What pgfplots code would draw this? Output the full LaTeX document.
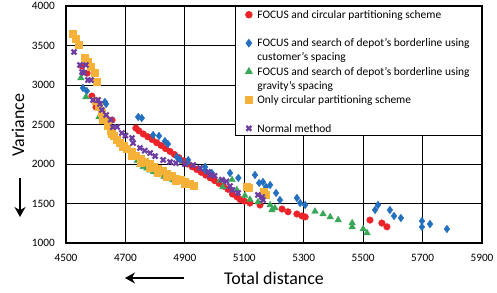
\documentclass[border=0pt]{standalone}
\usepackage{pgfplots}
\pgfplotsset{compat=1.18}
\usepackage{fontspec}
\setmainfont{Carlito}
\usetikzlibrary{arrows.meta}
\definecolor{cred}{RGB}{236,35,40}
\definecolor{cblue}{RGB}{36,112,192}
\definecolor{cgreen}{RGB}{56,168,88}
\definecolor{corange}{RGB}{246,178,56}
\definecolor{cpurple}{RGB}{110,62,160}
\pgfplotsset{
  lgmark/.style={only marks, legend image code/.code={\draw[mark repeat=1,##1] plot coordinates {(0bp,3.6bp)};}},
}
\newcommand{\lentry}[2]{\rlap{\raisebox{-14bp}[0pt][0pt]{\strut #2}}\strut #1}
\newcommand{\lentrylast}[1]{\rlap{\raisebox{-13bp}[0pt]{\strut}}\strut #1}
\begin{document}
\begin{tikzpicture}
\begin{axis}[
  at={(0,0)}, anchor=south west,
  scale only axis, width=416bp, height=237bp,
  xmin=4500, xmax=5900, ymin=1000, ymax=4000,
  xtick={4500,4700,...,5900}, ytick={1000,1500,...,4000},
  grid=major, major grid style={black, line width=0.8bp},
  major tick length=0pt,
  axis line style={black, line width=1.2bp},
  /pgf/number format/assume math mode=true,
  /pgf/number format/1000 sep={},
  ticklabel style={font=\fontsize{11.3}{13}\selectfont},
  yticklabel style={inner sep=0pt, xshift=-11bp},
  xticklabel style={inner sep=0pt, yshift=-11bp},
  legend cell align=left,
  legend style={at={(1,1)}, anchor=north east, draw=black, line width=0.8bp, fill=white,
    inner xsep=10bp, inner ysep=0bp, column sep=3bp, row sep=13bp,
    cells={anchor=base west},
    font=\fontsize{11.5}{14.25}\selectfont},
]
\addplot[lgmark, mark=*, mark size=3.3bp, color=cred, mark options={draw=cred, fill=cred}] coordinates {
(4554,3240) (4571,3150) (4587,2860) (4601,2720) (4620,2650) (4655,2557)
(4735,2455) (4745,2420) (4760,2380) (4775,2345) (4790,2310) (4805,2270) (4820,2235)
(4835,2195) (4850,2160) (4865,2120) (4880,2080) (4895,2040) (4910,2000) (4925,1965)
(4940,1930) (4955,1895) (4970,1860) (4985,1825) (5000,1790) (5015,1755) (5030,1720)
(5045,1680) (5060,1620) (5075,1585) (5086,1550) (5100,1530) (5119,1506) (5153,1481)
(5227,1430) (5247,1395) (5277,1367) (5294,1342) (5305,1330)
(5523,1290) (5563,1253) (5580,1205)
};
\addlegendentry{\lentry{FOCUS and circular partitioning scheme}{}}
\addplot[lgmark, mark=diamond*, mark size=3.8bp, color=cblue, mark options={draw=cblue, fill=cblue}] coordinates {
(4557,2962) (4570,2924) (4631,2785) (4635,2760) (4743,2595) (4755,2582)
(4793,2367) (4813,2355) (4833,2290) (4843,2253) (4873,2089) (4884,2051) (4907,2013)
(4911,2050) (4968,1962) (4968,1924) (4991,1886) (5052,1886) (5080,1823) (5136,1861)
(5150,1760) (5163,1772) (5173,1709) (5187,1734) (5207,1633) (5220,1544) (5277,1570)
(5288,1506) (5305,1481)
(5540,1418) (5550,1481) (5590,1418) (5604,1342) (5627,1316) (5698,1278) (5698,1203)
(5725,1240) (5782,1177)
};
\addlegendentry{\lentry{FOCUS and search of depot's borderline using}{customer's spacing}}
\addplot[lgmark, mark=triangle*, mark size=3.8bp, color=cgreen, mark options={draw=cgreen, fill=cgreen}] coordinates {
(4550,3089) (4567,2848) (4611,2595)
(4732,2080) (4740,2040) (4749,1990) (4760,1965) (4772,1945) (4785,1920) (4795,1900)
(4806,1886) (4820,1860) (4830,1840) (4840,1823) (4850,1810) (4860,1797)
(5018,1790) (5028,1709) (5059,1800) (5075,1671) (5102,1600) (5119,1550) (5146,1519)
(5187,1481) (5193,1418) (5203,1443)
(5338,1400) (5365,1367) (5389,1329) (5416,1291) (5463,1253) (5463,1203) (5500,1177) (5513,1127)
};
\addlegendentry{\lentry{FOCUS and search of depot's borderline using}{gravity's spacing}}
\addplot[lgmark, mark=square*, mark size=3.5bp, color=corange, mark options={draw=corange, fill=corange}] coordinates {
(4522,3655) (4532,3590) (4543,3510) (4564,3340) (4574,3290) (4584,3230) (4598,3160) (4604,3040)
(4600,2800) (4610,2730) (4620,2650) (4630,2570) (4641,2480) (4650,2420) (4660,2360)
(4670,2310) (4682,2270) (4695,2230) (4705,2200) (4720,2150) (4735,2110) (4750,2070)
(4765,2035) (4780,2000) (4795,1970) (4810,1940) (4825,1910) (4840,1880) (4855,1850)
(4870,1820) (4885,1795) (4900,1770) (4915,1750) (4930,1730)
(4625,2560) (4655,2380) (4690,2220) (4720,2110) (4750,2020) (4780,1950) (4810,1890)
(4840,1840) (4870,1790) (4900,1750)
(5109,1709) (5116,1696) (5166,1646) (5173,1608)
};
\addlegendentry{\lentry{Only circular partitioning scheme}{}}
\addplot[lgmark, mark=x, mark size=3.5bp, color=cpurple, mark options={draw=cpurple, line width=2.2bp}] coordinates {
(4527,3418) (4547,3253) (4567,3253) (4554,3165) (4561,3152) (4574,3063) (4584,3063)
(4591,2810) (4608,2810) (4614,2760) (4621,2684) (4635,2620) (4650,2560) (4658,2468)
(4672,2468) (4688,2392) (4700,2360) (4722,2329) (4726,2266) (4749,2203) (4765,2170)
(4783,2139) (4800,2100) (4827,2051) (4850,2025) (4870,2010) (4900,2000) (4928,1987)
(4951,1949) (4978,1899) (4985,1861) (5000,1850) (5025,1800) (5040,1780) (5052,1720)
(5060,1671) (5079,1633) (5146,1608) (5160,1582) (5163,1544)
};
\addlegendentry{\lentrylast{Normal method}}
\end{axis}
\node[rotate=90, font=\fontsize{18}{20}\selectfont] at (-48bp,118bp) {Variance};
\draw[line width=1.4bp, -{Stealth[length=10bp,width=11bp]}] (-46bp,65bp) -- (-46bp,26bp);
\node[font=\fontsize{18}{20}\selectfont] at (208bp,-35bp) {Total distance};
\draw[line width=1.4bp, -{Stealth[length=10bp,width=11bp]}] (118bp,-35bp) -- (59bp,-35bp);
\pgfresetboundingbox
\path[use as bounding box] (-66bp,-50bp) rectangle (431bp,243bp);
\end{tikzpicture}
\end{document}
